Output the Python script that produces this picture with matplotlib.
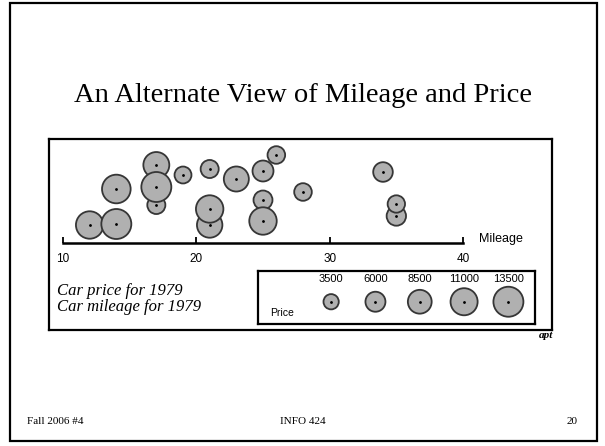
import matplotlib
matplotlib.use("Agg")
import matplotlib.pyplot as plt
from matplotlib.patches import Rectangle

# car data (mileage, height above axis, price)
mileage = [12, 14, 14, 17, 17, 17, 19, 21, 21, 21, 23, 25, 26, 25, 25, 28, 34, 35, 35]
height = [18, 19, 54, 78, 38, 56, 68, 74, 18, 34, 64, 72, 88, 43, 22, 51, 71, 27, 39]
price = [11300, 13500, 12300, 10100, 4900, 13500, 4300, 4900, 9700, 11300,
         9400, 6600, 4650, 5400, 11300, 4650, 5760, 5650, 4540]

legend_prices = [3500, 6000, 8500, 11000, 13500]
mileage_ticks = [10, 20, 30, 40]

W, H = 605, 446
SERIF = ["Liberation Serif", "DejaVu Serif"]
SANS = ["Liberation Sans", "DejaVu Sans"]
FACE = "#b0b0b0"
EDGE = "#363636"


def fx(px):
    return px / W


def fy(py):
    return 1 - py / H


def bubble_size(p):
    # area proportional to price, 13500 -> 15 px radius
    return (2 * 15 * 0.72) ** 2 * p / 13500


fig = plt.figure(figsize=(W / 100, H / 100), dpi=100)

# slide border
fig.patches.append(Rectangle((fx(10), fy(441)), fx(587), 1 - fy(438), transform=fig.transFigure,
                             fill=False, lw=1.6, ec="black"))

fig.text(0.5, fy(95), "An Alternate View of Mileage and Price", family=SERIF,
         fontsize=20.5, ha="center", va="center")
fig.text(fx(27), fy(421), "Fall 2006 #4", family=SERIF, fontsize=8, va="center")
fig.text(0.5, fy(421), "INFO 424", family=SERIF, fontsize=8, ha="center", va="center")
fig.text(fx(578), fy(421), "20", family=SERIF, fontsize=8, ha="right", va="center")

# frame of the scanned figure
frame = fig.add_axes([fx(49), fy(330), fx(503), fy(139) - fy(330)])
frame.set_xticks([])
frame.set_yticks([])
for s in frame.spines.values():
    s.set_linewidth(1.6)

# main bubble chart
ax = fig.add_axes([fx(63), fy(243), fx(400), fy(143) - fy(243)])
ax.patch.set_alpha(0)
ax.set_xlim(10, 40)
ax.set_ylim(0, 100)
ax.scatter(mileage, height, s=[bubble_size(p) for p in price], c=FACE,
           edgecolors=EDGE, linewidths=1.3, clip_on=False, zorder=3)
ax.scatter(mileage, height, s=1, c="black", clip_on=False, zorder=4)
for side in ["top", "right", "left"]:
    ax.spines[side].set_visible(False)
ax.spines["bottom"].set_linewidth(1.8)
ax.set_yticks([])
ax.set_xticks(mileage_ticks)
ax.set_xticklabels([str(t) for t in mileage_ticks], family=SANS)
ax.tick_params(axis="x", direction="in", length=4, width=1.3, labelsize=8.5, pad=7)
ax.text(1.04, 0.04, "Mileage", transform=ax.transAxes, family=SANS, fontsize=9,
        va="center", ha="left")

fig.text(fx(57), fy(291), "Car price for 1979", family=SERIF, style="italic",
         fontsize=12, va="center")
fig.text(fx(57), fy(307), "Car mileage for 1979", family=SERIF, style="italic",
         fontsize=12, va="center")
fig.text(fx(553), fy(336), "apt", family=SERIF, style="italic", fontweight="bold",
         fontsize=8, ha="right", va="center")

# price legend box
lg = fig.add_axes([fx(258), fy(324), fx(277), fy(271) - fy(324)])
lg.set_xlim(-1.65, 4.6)
lg.set_ylim(0, 1)
lg.set_xticks([])
lg.set_yticks([])
for s in lg.spines.values():
    s.set_linewidth(1.6)
pos = list(range(len(legend_prices)))
lg.scatter(pos, [0.42] * len(pos), s=[bubble_size(p) for p in legend_prices], c=FACE,
           edgecolors=EDGE, linewidths=1.3, zorder=3)
lg.scatter(pos, [0.42] * len(pos), s=1, c="black", zorder=4)
for i, p in zip(pos, legend_prices):
    lg.text(i, 0.84, str(p), family=SANS, fontsize=8, ha="center", va="center")
lg.text(0.045, 0.2, "Price", transform=lg.transAxes, family=SANS, fontsize=7.5, va="center")

fig.savefig("out.png", dpi=100)
